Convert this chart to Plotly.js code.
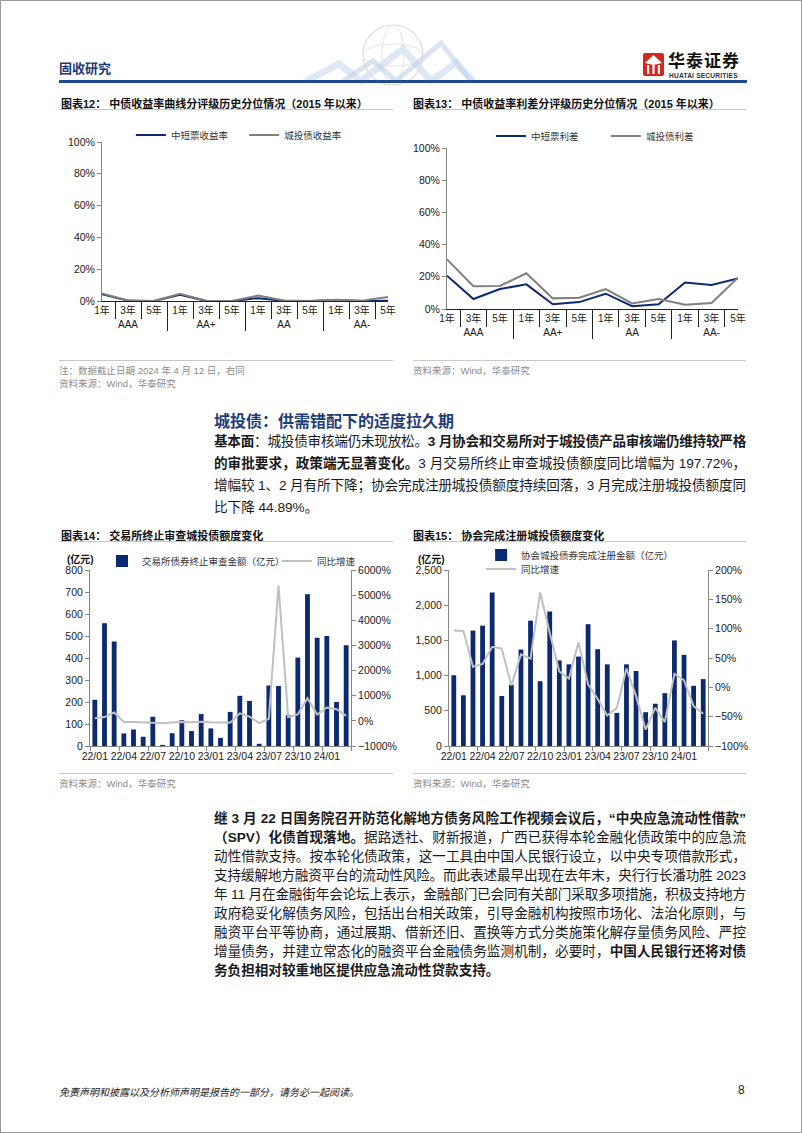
<!DOCTYPE html>
<html><head><meta charset="utf-8">
<script src="https://cdn.plot.ly/plotly-3.0.1.min.js"></script>
<style>
body{margin:0;background:#fff;}
#page{position:relative;width:802px;height:1133px;overflow:hidden;font-family:"Liberation Sans","Noto Sans CJK SC",sans-serif;box-sizing:border-box;border:1px solid #9a9a9a;background:#fff;}
.abs{position:absolute;white-space:nowrap;}
.ctitle{position:absolute;font-size:11px;font-weight:bold;color:#111;white-space:nowrap;}
.rule{position:absolute;height:0;border-top:1.5px solid #c9c9c9;}
.src{position:absolute;font-size:9.5px;color:#8c8c8c;white-space:nowrap;}
.ln{position:absolute;left:213px;width:532px;font-size:13.6px;line-height:19px;height:19px;text-align:justify;text-align-last:justify;white-space:nowrap;color:#1a1a1a;}
.ln.last{text-align-last:left;}
.plot{position:absolute;}
</style>
</head>
<body>
<div id="page">
  <!-- header decoration -->
  <svg class="abs" style="left:0;top:0" width="802" height="90">
    <circle cx="392" cy="54" r="30" fill="none" stroke="#dedede" stroke-width="1.2"/>
    <ellipse cx="392" cy="54" rx="30" ry="11" fill="none" stroke="#e6e6e6" stroke-width="1"/>
    <ellipse cx="392" cy="54" rx="11" ry="30" fill="none" stroke="#e6e6e6" stroke-width="1"/>
    <polyline points="305,80 338,63 360,80 402,48 430,80 455,62 472,80" fill="none" stroke="#d6e4f3" stroke-width="7" opacity="0.8"/>
    <polyline points="342,80 372,60 395,80 440,42 470,80" fill="none" stroke="#bfd4ea" stroke-width="5" opacity="0.6"/>
  </svg>
  <div class="abs" style="left:58px;top:59px;font-size:13px;line-height:15px;font-weight:bold;color:#1c3a78;font-family:'Noto Sans CJK SC';">固收研究</div>
  <svg class="abs" style="left:642px;top:52px" width="22" height="24">
    <rect x="0" y="0" width="21" height="23" rx="2" fill="#d7261e"/>
    <path d="M10.5 2 L19 10 L10.5 12 L2 10 Z" fill="#fff"/>
    <rect x="4" y="12" width="2.2" height="9" fill="#fff"/>
    <rect x="9.4" y="12" width="2.2" height="9" fill="#fff"/>
    <rect x="14.8" y="12" width="2.2" height="9" fill="#fff"/>
  </svg>
  <div class="abs" style="left:667px;top:50px;font-size:17px;line-height:17px;font-weight:bold;color:#111;font-family:'Noto Sans CJK SC';letter-spacing:1px;">华泰证券</div>
  <div class="abs" style="left:668px;top:71px;font-size:6.6px;line-height:7px;font-weight:bold;color:#333;letter-spacing:0.2px;">HUATAI SECURITIES</div>
  <div class="abs" style="left:58px;top:79px;width:688px;height:3px;background:#1f4a8f;"></div>

  <!-- chart titles row 1 -->
  <div class="ctitle" style="left:60px;top:94px;">图表12：&nbsp;中债收益率曲线分评级历史分位情况（2015 年以来）</div>
  <div class="rule" style="left:58px;top:108px;width:334px;"></div>
  <div class="ctitle" style="left:412px;top:94px;">图表13：&nbsp;中债收益率利差分评级历史分位情况（2015 年以来）</div>
  <div class="rule" style="left:412px;top:108px;width:333px;"></div>

  <div id="c12" class="plot" style="left:40px;top:112px;"></div>
  <div id="c13" class="plot" style="left:405px;top:112px;"></div>

  <div class="rule" style="left:58px;top:359px;width:334px;"></div>
  <div class="src" style="left:58px;top:362px;">注：数据截止日期 2024 年 4 月 12 日，右同</div>
  <div class="src" style="left:58px;top:375px;">资料来源：Wind，华泰研究</div>
  <div class="rule" style="left:412px;top:359px;width:333px;"></div>
  <div class="src" style="left:412px;top:362px;">资料来源：Wind，华泰研究</div>

  <!-- section 1 -->
  <div class="abs" style="left:213px;top:407px;font-size:16px;font-weight:bold;color:#1f3d7a;font-family:'Noto Sans CJK SC';">城投债：供需错配下的适度拉久期</div>
  <div class="ln" style="top:431px;"><b>基本面</b>：城投债审核端仍未现放松。<b>3 月协会和交易所对于城投债产品审核端仍维持较严格</b></div>
  <div class="ln" style="top:453px;"><b>的审批要求，政策端无显著变化。</b>3 月交易所终止审查城投债额度同比增幅为 197.72%，</div>
  <div class="ln" style="top:475px;">增幅较 1、2 月有所下降；协会完成注册城投债额度持续回落，3 月完成注册城投债额度同</div>
  <div class="ln last" style="top:497px;">比下降 44.89%。</div>

  <!-- chart titles row 2 -->
  <div class="ctitle" style="left:60px;top:526px;">图表14：&nbsp;交易所终止审查城投债额度变化</div>
  <div class="rule" style="left:58px;top:540px;width:334px;"></div>
  <div class="ctitle" style="left:412px;top:526px;">图表15：&nbsp;协会完成注册城投债额度变化</div>
  <div class="rule" style="left:412px;top:540px;width:333px;"></div>

  <div id="c14" class="plot" style="left:40px;top:545px;"></div>
  <div id="c15" class="plot" style="left:405px;top:545px;"></div>

  <div class="rule" style="left:58px;top:772px;width:334px;"></div>
  <div class="src" style="left:58px;top:775px;">资料来源：Wind，华泰研究</div>
  <div class="rule" style="left:412px;top:772px;width:333px;"></div>
  <div class="src" style="left:412px;top:775px;">资料来源：Wind，华泰研究</div>

  <!-- section 2 -->
  <div class="ln" style="top:808px;"><b>继 3 月 22 日国务院召开防范化解地方债务风险工作视频会议后，“中央应急流动性借款”</b></div>
  <div class="ln" style="top:827px;"><b>（SPV）化债首现落地。</b>据路透社、财新报道，广西已获得本轮金融化债政策中的应急流</div>
  <div class="ln" style="top:846px;">动性借款支持。按本轮化债政策，这一工具由中国人民银行设立，以中央专项借款形式，</div>
  <div class="ln" style="top:865px;">支持缓解地方融资平台的流动性风险。而此表述最早出现在去年末，央行行长潘功胜 2023</div>
  <div class="ln" style="top:884px;">年 11 月在金融街年会论坛上表示，金融部门已会同有关部门采取多项措施，积极支持地方</div>
  <div class="ln" style="top:903px;">政府稳妥化解债务风险，包括出台相关政策，引导金融机构按照市场化、法治化原则，与</div>
  <div class="ln" style="top:922px;">融资平台平等协商，通过展期、借新还旧、置换等方式分类施策化解存量债务风险、严控</div>
  <div class="ln" style="top:941px;">增量债务，并建立常态化的融资平台金融债务监测机制，必要时，<b>中国人民银行还将对债</b></div>
  <div class="ln last" style="top:960px;"><b>务负担相对较重地区提供应急流动性贷款支持。</b></div>

  <!-- footer -->
  <div class="abs" style="left:58px;top:1083px;font-size:10px;font-style:italic;color:#222;font-family:'Noto Sans CJK SC';">免责声明和披露以及分析师声明是报告的一部分，请务必一起阅读。</div>
  <div class="abs" style="left:737px;top:1082px;font-size:12px;color:#222;">8</div>
</div>

<script>
// ---------- data ----------
const ratings = ['AAA','AAA','AAA','AA+','AA+','AA+','AA','AA','AA','AA-','AA-','AA-'];
const tenors  = ['1年','3年','5年','1年','3年','5年','1年','3年','5年','1年','3年','5年'];
const yieldMtnPct  = [4.2, 0.2, 0.0, 3.9, 0.1, 0.0, 1.8, 0.1, 0.0, 0.6, 0.0, 0.1];
const yieldLgfvPct = [4.8, 0.4, 0.0, 4.5, 0.2, 0.0, 3.4, 0.3, 0.0, 0.8, 0.2, 2.6];
const spreadMtnPct  = [20.7, 6.2, 12.4, 15.3, 2.9, 4.3, 9.5, 1.7, 2.9, 16.4, 14.9, 19.0];
const spreadLgfvPct = [30.8, 14.1, 14.3, 22.2, 6.6, 7.0, 12.4, 3.5, 6.2, 2.7, 3.7, 19.5];
const yieldNames  = ['中短票收益率', '城投债收益率'];
const spreadNames = ['中短票利差', '城投债利差'];

const months = ['22/01','22/02','22/03','22/04','22/05','22/06','22/07','22/08','22/09','22/10','22/11','22/12',
                '23/01','23/02','23/03','23/04','23/05','23/06','23/07','23/08','23/09','23/10','23/11','23/12',
                '24/01','24/02','24/03'];
const exchTerminated = [210,558,475,57,75,42,133,5,58,117,68,145,80,37,155,228,205,10,275,273,140,402,690,492,500,200,458];
const exchYoY = [100,150,330,-45,-50,-60,-70,-95,-70,-50,-60,-40,-60,-75,-70,300,170,-90,80,5380,150,260,900,250,530,460,197.72];
const assocRegistered = [1005,720,1640,1710,2180,710,870,1370,1780,920,1910,1215,1160,1270,1730,1375,1160,470,1160,1065,480,600,750,1500,1295,855,950];
const assocYoY = [97,96,35,40,69,66,3,56,49,162,93,27,15,77,5,-20,-48,-35,32,-15,-72,-35,-59,23,12,-32,-44.89];
const exchNames  = ['交易所债券终止审查金额（亿元）', '同比增速'];
const assocNames = ['协会城投债券完成注册金额（亿元）', '同比增速'];
const unitLabel = '(亿元)';

// ---------- styles ----------
const FONT = 'Liberation Sans, Noto Sans CJK SC, sans-serif';
const NAVY = '#0c2a70', GRAY = '#808080', LGRAY = '#c0c0c0', AX = '#868686';
const cfg = {staticPlot: true, displayModeBar: false};
const tickFont = {family: FONT, size: 10.5, color: '#1a1a1a'};
const legFont = {family: 'Noto Sans CJK SC, Liberation Sans', size: 9.5, color: '#333'};
function ax(extra){ return Object.assign({showline:true, linecolor:AX, linewidth:1, ticks:'outside', ticklen:4, tickcolor:AX,
  showgrid:false, zeroline:false, tickfont:tickFont, fixedrange:true}, extra); }
function leg(x, y){ return {x:x, y:y, xanchor:'left', yanchor:'middle', orientation:'h', font:legFont, itemwidth:30,
  bgcolor:'rgba(0,0,0,0)', borderwidth:0}; }

function pctLineChart(id, w, h, margin, series, names, legPos){
  const x = [ratings, tenors];
  const traces = [
    {type:'scatter', mode:'lines', x:x, y:series[0], name:names[0], line:{color:NAVY, width:2}, legend:'legend'},
    {type:'scatter', mode:'lines', x:x, y:series[1], name:names[1], line:{color:GRAY, width:2}, legend:'legend2'}
  ];
  const layout = {
    width:w, height:h, margin:Object.assign({autoexpand:false}, margin), paper_bgcolor:'#fff', plot_bgcolor:'#fff', font:{family:FONT},
    showlegend:true,
    legend:leg(legPos[0], legPos[2]), legend2:leg(legPos[1], legPos[2]),
    xaxis:{type:'multicategory', showline:true, linecolor:'#222', linewidth:1, ticks:'outside', tickson:'boundaries', ticklen:17,
           tickcolor:'#222', showdividers:true, dividercolor:'#222', dividerwidth:1, showgrid:false, zeroline:false,
           tickfont:{family:FONT, size:10, color:'#1a1a1a'}},
    yaxis:ax({range:[0,100], dtick:20, ticksuffix:'%'})
  };
  Plotly.newPlot(id, traces, layout, cfg);
}

pctLineChart('c12', 360, 240, {l:61, r:13, t:29, b:52}, [yieldMtnPct, yieldLgfvPct], yieldNames, [0.101, 0.497, 1.044]);
pctLineChart('c13', 397, 240, {l:41, r:65, t:35, b:44}, [spreadMtnPct, spreadLgfvPct], spreadNames, [0.151, 0.546, 1.0745]);

function barLineChart(id, w, h, margin, bars, yoy, names, yRange, yDtick, yFmt, y2Range, y2Dtick, legA, legB, unitX){
  const traces = [
    {type:'bar', x:months, y:bars, name:names[0], marker:{color:NAVY}, yaxis:'y', legend:'legend'},
    {type:'scatter', mode:'lines', x:months, y:yoy, name:names[1], line:{color:LGRAY, width:2}, yaxis:'y2', legend:'legend2'}
  ];
  const layout = {
    width:w, height:h, margin:Object.assign({autoexpand:false}, margin), paper_bgcolor:'#fff', plot_bgcolor:'#fff', font:{family:FONT},
    bargap:0.5, showlegend:true,
    legend:leg(legA[0], legA[1]), legend2:leg(legB[0], legB[1]),
    xaxis:ax({type:'category', range:[-0.5, months.length-0.5], tickmode:'linear', tick0:0, dtick:3, tickson:'boundaries',
              tickangle:0, tickfont:{family:FONT, size:10.5, color:'#1a1a1a'}}),
    yaxis:ax({range:yRange, dtick:yDtick, tickformat:yFmt}),
    yaxis2:ax({overlaying:'y', side:'right', range:y2Range, dtick:y2Dtick, ticksuffix:'%'}),
    annotations:[{text:'<b>'+unitLabel+'</b>', xref:'paper', yref:'paper', x:unitX, y:1.062, xanchor:'center', yanchor:'middle',
                  showarrow:false, font:{family:'Liberation Sans, Noto Sans CJK SC', size:10, color:'#111'}}]
  };
  Plotly.newPlot(id, traces, layout, cfg);
}

barLineChart('c14', 360, 225, {l:49, r:50, t:24, b:25}, exchTerminated, exchYoY, exchNames,
  [0,800], 100, 'd', [-1000,6000], 1000, [0.046, 1.051], [0.716, 1.051], -0.036);
barLineChart('c15', 397, 225, {l:43, r:95, t:24, b:25}, assocRegistered, assocYoY, assocNames,
  [0,2500], 500, ',d', [-100,200], 50, [0.124, 1.085], [0.124, 1.006], -0.066);

// fit justified lines that would overflow
document.querySelectorAll('.ln').forEach(el => {
  const span = document.createElement('span');
  while (el.firstChild) span.appendChild(el.firstChild);
  el.appendChild(span);
  const natural = span.getBoundingClientRect().width;
  const target = el.clientWidth;
  if (natural > target) {
    const n = span.textContent.length;
    span.style.letterSpacing = ((target - natural) / n) + 'px';
  }
});
</script>
</body></html>
